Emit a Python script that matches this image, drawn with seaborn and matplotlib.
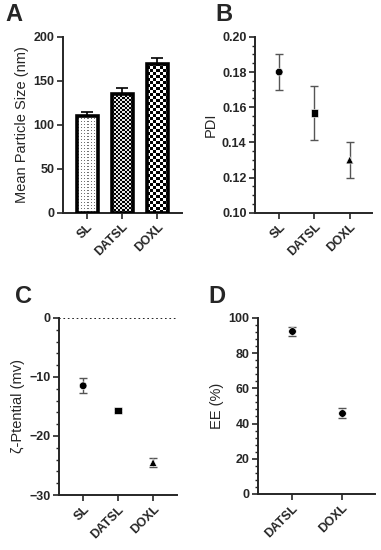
import numpy as np
import pandas as pd
import matplotlib
matplotlib.use('Agg')
import matplotlib.pyplot as plt
from matplotlib.ticker import MultipleLocator, FormatStrFormatter
import seaborn as sns

# Données
size_groups = ['SL', 'DATSL', 'DOXL']
size_mean = [110, 135, 169]
size_err = [5, 7, 7]

pdi_groups = ['SL', 'DATSL', 'DOXL']
pdi_mean = [0.180, 0.1567, 0.130]
pdi_err = [0.010, 0.0153, 0.010]

zeta_groups = ['SL', 'DATSL', 'DOXL']
zeta_mean = [-11.5, -15.7, -24.5]
zeta_err = [1.3, 0.3, 0.8]

ee_groups = ['DATSL', 'DOXL']
ee_mean = [92.5, 46.0]
ee_err = [2.5, 3.0]

sns.set_style('ticks')
plt.rcParams['font.family'] = ['Liberation Sans', 'DejaVu Sans']
plt.rcParams['axes.linewidth'] = 1.4
plt.rcParams['xtick.major.width'] = 1.2
plt.rcParams['ytick.major.width'] = 1.2
plt.rcParams['ytick.minor.width'] = 1.0
plt.rcParams['xtick.major.size'] = 4
plt.rcParams['ytick.major.size'] = 4
plt.rcParams['ytick.minor.size'] = 2.5

fig = plt.figure(figsize=(3.81, 5.5), dpi=100)
axA = fig.add_axes([0.165, 0.613, 0.313, 0.32])
axB = fig.add_axes([0.669, 0.613, 0.307, 0.32])
axC = fig.add_axes([0.155, 0.100, 0.310, 0.322])
axD = fig.add_axes([0.677, 0.102, 0.307, 0.320])

tick_font = dict(fontsize=9, fontweight='bold')


def style_axis(ax, ylabel):
    sns.despine(ax=ax)
    ax.set_ylabel(ylabel, fontsize=10.5, labelpad=3)
    ax.set_xlabel('')
    plt.setp(ax.get_xticklabels(), rotation=45, ha='right', rotation_mode='anchor', **tick_font)
    plt.setp(ax.get_yticklabels(), **tick_font)
    ax.tick_params(axis='x', pad=2)
    ax.tick_params(axis='y', pad=2)


def texture(kind, nx, ny):
    j, i = np.meshgrid(np.arange(nx), np.arange(ny))
    if kind == 'dots':
        img = np.ones((ny, nx))
        img[(i % 3 == 1) & (j % 3 == 1)] = 0.45
    elif kind == 'fine':
        img = ((i // 2 + j // 2) % 2).astype(float) * 0.9
    else:
        img = ((i // 3 + j // 3) % 2).astype(float)
    return img


# A : taille des particules
df_a = pd.DataFrame({'groupe': size_groups, 'taille': size_mean})
sns.barplot(data=df_a, x='groupe', y='taille', ax=axA, color='white',
            edgecolor='black', linewidth=2.6, width=0.6)
axA.set_ylim(0, 200)
axA.set_xlim(-0.69, 2.71)
for bar, kind in zip(axA.patches, ['dots', 'fine', 'check']):
    x0, y0 = bar.get_x(), bar.get_y()
    x1, y1 = x0 + bar.get_width(), y0 + bar.get_height()
    p0 = axA.transData.transform((x0, y0))
    p1 = axA.transData.transform((x1, y1))
    nx, ny = int(round(p1[0] - p0[0])), int(round(p1[1] - p0[1]))
    bar.set_facecolor('none')
    bar.set_zorder(3)
    im = axA.imshow(texture(kind, nx, ny), extent=(x0, x1, y0, y1), origin='lower',
                    cmap='gray', vmin=0, vmax=1, interpolation='nearest',
                    aspect='auto', zorder=2)
    im.set_clip_path(bar)
axA.errorbar(size_groups, size_mean, yerr=[[0, 0, 0], size_err], fmt='none',
             ecolor='black', elinewidth=1.2, capsize=4, capthick=1.2, zorder=1)
axA.set_ylim(0, 200)
axA.set_xlim(-0.69, 2.71)
axA.yaxis.set_major_locator(MultipleLocator(50))
style_axis(axA, 'Mean Particle Size (nm)')

marks = {'SL': 'o', 'DATSL': 's', 'DOXL': '^'}

# B : PDI
df_b = pd.DataFrame({'groupe': pdi_groups, 'pdi': pdi_mean})
axB.errorbar(pdi_groups, pdi_mean, yerr=pdi_err, fmt='none', ecolor='#555555',
             elinewidth=1.0, capsize=3, capthick=1.0)
sns.scatterplot(data=df_b, x='groupe', y='pdi', style='groupe', markers=marks,
                color='black', s=30, legend=False, ax=axB, zorder=3)
axB.set_ylim(0.10, 0.20)
axB.set_xlim(-0.69, 2.63)
axB.yaxis.set_major_locator(MultipleLocator(0.02))
axB.yaxis.set_minor_locator(MultipleLocator(0.005))
axB.yaxis.set_major_formatter(FormatStrFormatter('%.2f'))
style_axis(axB, 'PDI')

# C : potentiel zeta
df_c = pd.DataFrame({'groupe': zeta_groups, 'zeta': zeta_mean})
axC.errorbar(zeta_groups, zeta_mean, yerr=zeta_err, fmt='none', ecolor='#555555',
             elinewidth=1.0, capsize=3, capthick=1.0)
sns.scatterplot(data=df_c, x='groupe', y='zeta', style='groupe', markers=marks,
                color='black', s=30, legend=False, ax=axC, zorder=3)
axC.axhline(0, ls=':', color='black', lw=1.2)
axC.set_ylim(-30, 0)
axC.set_xlim(-0.69, 2.69)
axC.yaxis.set_major_locator(MultipleLocator(10))
axC.yaxis.set_minor_locator(MultipleLocator(2))
style_axis(axC, 'ζ-Ptential (mv)')

# D : efficacité d'encapsulation
df_d = pd.DataFrame({'groupe': ee_groups, 'ee': ee_mean})
axD.errorbar(ee_groups, ee_mean, yerr=ee_err, fmt='none', ecolor='#555555',
             elinewidth=1.0, capsize=3, capthick=1.0)
sns.scatterplot(data=df_d, x='groupe', y='ee', color='black', s=30,
                legend=False, ax=axD, zorder=3)
axD.set_ylim(0, 100)
axD.set_xlim(-0.68, 1.66)
axD.yaxis.set_major_locator(MultipleLocator(20))
axD.yaxis.set_minor_locator(MultipleLocator(4))
style_axis(axD, 'EE (%)')

for lab, x, y in [('A', 0.013, 0.995), ('B', 0.564, 0.995),
                  ('C', 0.040, 0.482), ('D', 0.546, 0.482)]:
    fig.text(x, y, lab, fontsize=17, fontweight='bold', va='top', ha='left')

fig.savefig('out.png', dpi=100)
